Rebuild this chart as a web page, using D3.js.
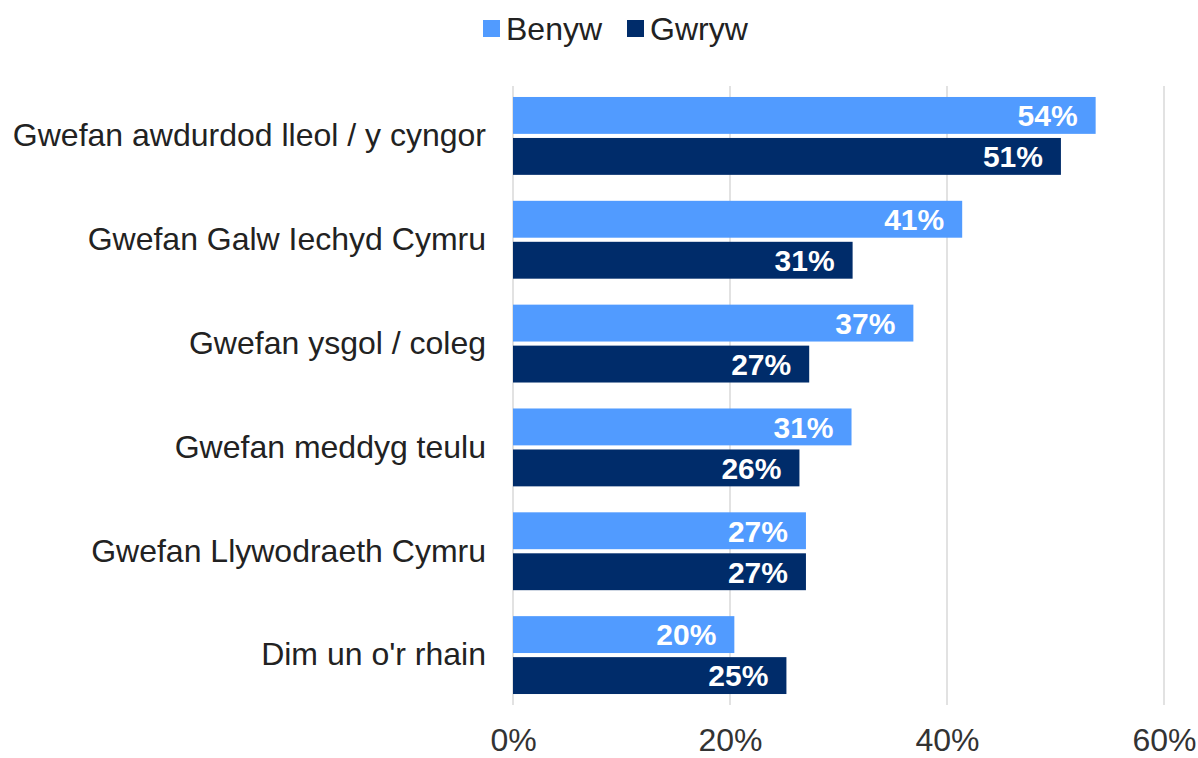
<!DOCTYPE html>
<html><head><meta charset="utf-8">
<script src="https://cdn.jsdelivr.net/npm/d3@7"></script>
<style>body{margin:0;background:#fff;} svg{display:block;font-family:"Liberation Sans",Arial,sans-serif;}</style>
</head><body><svg id="c" width="1198" height="758"></svg>
<script>
const categories = ["Gwefan awdurdod lleol / y cyngor","Gwefan Galw Iechyd Cymru","Gwefan ysgol / coleg","Gwefan meddyg teulu","Gwefan Llywodraeth Cymru","Dim un o'r rhain"];
const seriesNames = ["Benyw","Gwryw"];
const benyw = [53.7, 41.4, 36.9, 31.2, 27.0, 20.4];
const gwryw = [50.5, 31.3, 27.3, 26.4, 27.0, 25.2];
const tickValues = [0, 20, 40, 60];
const colors = ["#519bff", "#002c6a"];

const svg = d3.select("#c");
const x = d3.scaleLinear().domain([0, 60]).range([513, 1164]);
const y0 = d3.scaleBand().domain(categories).range([84, 707]).paddingInner(0.25).paddingOuter(0.125);
const y1 = d3.scaleBand().domain(seriesNames).range([0, y0.bandwidth()]).paddingInner(0.1);

// gridlines
svg.append("g").selectAll("line").data(tickValues).join("line")
  .attr("x1", d => x(d)).attr("x2", d => x(d))
  .attr("y1", 86).attr("y2", 705)
  .attr("stroke", "#d9d9d9").attr("stroke-width", 1.5);

// x axis labels
const xAxis = d3.axisBottom(x).tickValues(tickValues).tickFormat(d => d + "%").tickSize(0).tickPadding(0);
const gx = svg.append("g").attr("transform", "translate(0,728)").call(xAxis);
gx.select(".domain").remove();
gx.selectAll("text").attr("font-size", 32).attr("fill", "#333").attr("font-family", "Liberation Sans, Arial, sans-serif");

// y axis labels
const yAxis = d3.axisLeft(y0).tickSize(0).tickPadding(0);
const gy = svg.append("g").attr("transform", "translate(486,0)").call(yAxis);
gy.select(".domain").remove();
gy.selectAll("text").attr("font-size", 32).attr("fill", "#222").attr("font-family", "Liberation Sans, Arial, sans-serif");

const rows = categories.map((c, i) => ({cat: c, vals: [benyw[i], gwryw[i]]}));
const groups = svg.append("g").selectAll("g").data(rows).join("g")
  .attr("transform", d => `translate(0,${y0(d.cat)})`);
groups.selectAll("rect").data(d => d.vals.map((v, j) => ({v, s: seriesNames[j], j}))).join("rect")
  .attr("x", x(0)).attr("y", d => y1(d.s))
  .attr("width", d => x(d.v) - x(0)).attr("height", y1.bandwidth())
  .attr("fill", d => colors[d.j]);
groups.selectAll("text").data(d => d.vals.map((v, j) => ({v, s: seriesNames[j], j}))).join("text")
  .attr("x", d => x(d.v) - 18).attr("y", d => y1(d.s) + y1.bandwidth() / 2)
  .attr("dy", "0.36em").attr("text-anchor", "end")
  .attr("font-size", 30).attr("font-weight", "bold").attr("fill", "#fff")
  .text(d => Math.round(d.v) + "%");

// legend
const legend = svg.append("g");
const legX = [483, 627];
seriesNames.forEach((s, i) => {
  legend.append("rect").attr("x", legX[i]).attr("y", 20).attr("width", 17).attr("height", 17).attr("fill", colors[i]);
  legend.append("text").attr("x", legX[i] + 23).attr("y", 40).attr("font-size", 32).attr("fill", "#222").text(s);
});
</script></body></html>
